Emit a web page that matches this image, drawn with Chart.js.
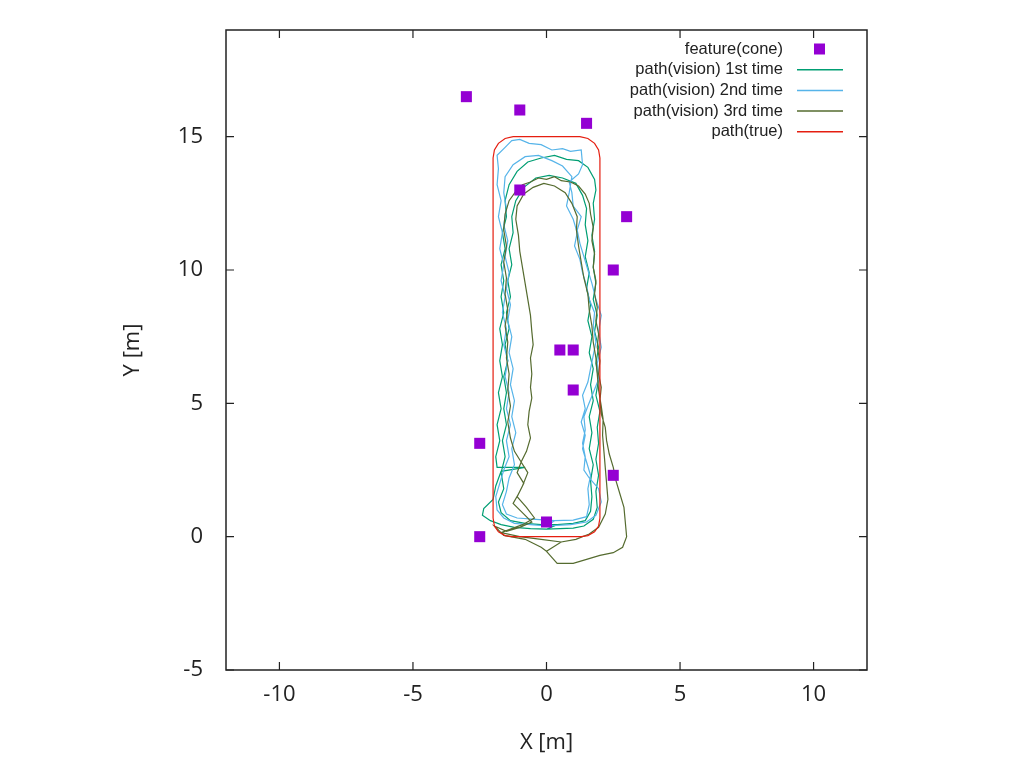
<!DOCTYPE html>
<html>
<head>
<meta charset="utf-8">
<script src="https://cdn.jsdelivr.net/npm/chart.js@4"></script>
<style>
  html, body { margin: 0; padding: 0; background: #fff; }
  #wrap { width: 1024px; height: 767px; }
</style>
</head>
<body>
<div id="wrap"><canvas id="trackChart" width="1024" height="767"></canvas></div>
<script>
// tick labels
var xTicks = [-10, -5, 0, 5, 10];
var yTicks = [-5, 0, 5, 10, 15];

// series labels
var seriesLabels = ['feature(cone)', 'path(vision) 1st time', 'path(vision) 2nd time', 'path(vision) 3rd time', 'path(true)'];

// cones [x, y]
var cones = [[-3, 16.5], [-1, 16], [1.5, 15.5], [-1, 13], [3, 12], [2.5, 10], [0.5, 7], [1, 7],
  [1, 5.5], [-2.5, 3.5], [2.5, 2.3], [0, 0.55], [-2.5, 0]];

// true path [x, y]
var pathTrue = [[-2, 0.7], [-2, 14.2], [-1.95, 14.5], [-1.8, 14.75], [-1.55, 14.93], [-1.25, 15],
  [1.25, 15], [1.55, 14.93], [1.8, 14.75], [1.95, 14.5], [2, 14.2], [2, 0.7], [1.95, 0.4],
  [1.8, 0.18], [1.55, 0.04], [1.3, 0], [-1.3, 0], [-1.55, 0.04], [-1.8, 0.18], [-1.95, 0.4], [-2, 0.7]];

// vision path, 1st time
var vision1 = [[0.0,0.28],[0.5,0.3],[1.0,0.32],[1.4,0.4],[1.75,0.65],[1.9,1.1],[1.85,1.7],[1.95,2.3],[1.85,2.9],
  [1.95,3.5],[1.9,4.1],[2.0,4.7],[1.85,5.3],[1.95,5.9],[1.85,6.5],[1.95,7.1],[1.8,7.7],[1.9,8.3],[1.75,8.9],
  [1.85,9.5],[1.75,10.1],[1.8,10.7],[1.7,11.3],[1.8,11.9],[1.75,12.5],[1.85,13.0],[1.8,13.4],[1.55,13.85],
  [1.2,14.1],[0.75,14.15],[0.3,14.3],[-0.2,14.2],[-0.7,14.05],[-1.1,13.7],[-1.4,13.2],[-1.55,12.6],[-1.5,12.0],
  [-1.65,11.4],[-1.55,10.8],[-1.7,10.2],[-1.6,9.6],[-1.7,9.0],[-1.6,8.4],[-1.75,7.8],[-1.65,7.2],[-1.75,6.6],
  [-1.65,6.0],[-1.8,5.4],[-1.7,4.8],[-1.85,4.2],[-1.75,3.6],[-1.9,3.0],[-1.85,2.6],[-0.8,2.6],[-1.7,2.45],
  [-1.9,1.9],[-2.0,1.4],[-2.35,1.05],[-2.4,0.8],[-2.1,0.6],[-1.7,0.45],[-1.2,0.35],[-0.6,0.3],[0.0,0.28],
  [0.4,0.45],[1.0,0.5],[1.45,0.6],[1.65,0.95],[1.7,1.5],[1.65,2.1],[1.75,2.7],[1.6,3.3],[1.7,3.9],[1.6,4.5],
  [1.75,5.1],[1.65,5.7],[1.75,6.3],[1.6,6.9],[1.7,7.5],[1.55,8.1],[1.65,8.7],[1.5,9.3],[1.6,9.9],[1.45,10.5],
  [1.55,11.1],[1.45,11.7],[1.5,12.3],[1.35,12.8],[1.1,13.25],[0.6,13.45],[0.1,13.55],[-0.4,13.45],[-0.85,13.1],
  [-1.15,12.6],[-1.3,12.0],[-1.25,11.4],[-1.4,10.8],[-1.3,10.2],[-1.45,9.6],[-1.35,9.0],[-1.5,8.4],[-1.4,7.8],
  [-1.55,7.2],[-1.45,6.6],[-1.6,6.0],[-1.5,5.4],[-1.6,4.8],[-1.5,4.2],[-1.65,3.6],[-1.55,3.0],[-1.7,2.4],
  [-1.6,1.8],[-1.8,1.3],[-1.7,0.9],[-1.35,0.6],[-0.8,0.5],[-0.2,0.45],[0.4,0.45]];

// vision path, 2nd time
var vision2 = [[0.0,0.4],[0.9,0.45],[1.5,0.55],[1.85,0.8],[2.05,1.3],[1.95,1.8],[1.6,2.2],[1.4,2.5],[1.45,3.0],
  [1.35,3.5],[1.45,4.0],[1.4,4.5],[1.55,4.9],[1.75,5.4],[1.95,5.9],[1.9,6.5],[2.05,7.1],[1.95,7.7],[2.05,8.3],
  [1.85,8.9],[1.7,9.5],[1.55,10.0],[1.4,10.5],[1.25,11.0],[1.15,11.5],[1.3,12.0],[1.0,12.4],[0.95,12.9],
  [0.85,13.3],[1.2,13.6],[1.35,13.95],[1.3,14.5],[0.9,14.45],[0.6,14.55],[0.2,14.5],[-0.2,14.7],[-0.65,14.75],
  [-1.0,14.9],[-1.3,14.85],[-1.55,14.6],[-1.85,14.3],[-1.8,13.8],[-1.85,13.2],[-1.7,12.6],[-1.8,12.0],
  [-1.65,11.4],[-1.75,10.8],[-1.6,10.2],[-1.7,9.6],[-1.55,9.0],[-1.65,8.4],[-1.5,7.8],[-1.6,7.2],[-1.45,6.6],
  [-1.55,6.0],[-1.4,5.4],[-1.5,4.8],[-1.35,4.2],[-1.5,3.6],[-1.4,3.0],[-1.6,2.5],[-1.75,2.0],[-1.9,1.5],
  [-1.85,1.0],[-1.6,0.7],[-1.2,0.5],[-0.6,0.45],[0.0,0.4],
  [0.3,0.6],[1.0,0.62],[1.5,0.75],[1.6,1.2],[1.55,1.8],[1.65,2.3],[1.5,2.8],[1.35,3.3],[1.45,3.8],[1.3,4.3],
  [1.45,4.8],[1.35,5.3],[1.55,5.8],[1.65,6.3],[1.75,6.8],[1.85,7.3],[1.75,7.9],[1.8,8.4],[1.6,8.9],[1.5,9.4],
  [1.35,9.9],[1.25,10.4],[1.05,10.9],[1.15,11.4],[1.0,11.9],[0.75,12.4],[0.85,12.9],[0.95,13.5],[0.6,13.9],
  [0.2,14.1],[-0.3,14.3],[-0.8,14.25],[-1.25,13.95],[-1.55,13.5],[-1.6,12.9],[-1.5,12.3],[-1.6,11.7],
  [-1.45,11.1],[-1.55,10.5],[-1.4,9.9],[-1.5,9.3],[-1.35,8.7],[-1.45,8.1],[-1.3,7.5],[-1.4,6.9],[-1.25,6.3],
  [-1.35,5.7],[-1.2,5.1],[-1.3,4.5],[-1.15,3.9],[-1.3,3.3],[-1.2,2.7],[-1.4,2.2],[-1.5,1.7],[-1.65,1.2],
  [-1.5,0.85],[-1.1,0.7],[-0.4,0.65],[0.3,0.6]];

// vision path, 3rd time
var vision3 = [[0.0,-0.55],[0.4,-1.0],[1.0,-1.0],[1.5,-0.85],[2.0,-0.7],[2.5,-0.6],[2.85,-0.4],[3.0,0.0],
  [2.95,0.55],[2.9,1.1],[2.75,1.6],[2.6,2.1],[2.5,2.6],[2.35,3.1],[2.25,3.6],[2.2,4.1],[2.05,4.6],[2.0,5.1],
  [2.05,5.6],[1.95,6.1],[2.0,6.6],[1.9,7.1],[1.95,7.6],[1.85,8.1],[1.9,8.6],[1.8,9.1],[1.85,9.6],[1.75,10.1],
  [1.8,10.6],[1.7,11.1],[1.75,11.6],[1.65,12.1],[1.6,12.5],[1.45,12.85],[1.2,13.15],[0.9,13.3],[0.55,13.35],
  [0.3,13.5],[0.0,13.4],[-0.3,13.45],[-0.6,13.3],[-0.9,13.2],[-1.15,12.95],[-1.4,12.6],[-1.55,12.1],
  [-1.6,11.5],[-1.5,10.9],[-1.6,10.3],[-1.5,9.7],[-1.55,9.1],[-1.45,8.5],[-1.55,7.9],[-1.45,7.3],[-1.5,6.7],
  [-1.4,6.1],[-1.45,5.5],[-1.35,4.9],[-1.45,4.3],[-1.35,3.7],[-1.2,3.2],[-0.95,2.8],[-1.1,2.4],[-0.85,2.0],
  [-1.05,1.6],[-1.25,1.25],[-0.95,0.95],[-0.55,0.55],[-1.0,0.35],[-1.5,0.2],[-1.95,0.4],[-1.6,0.05],
  [-0.8,-0.1],[-0.2,-0.4],[0.0,-0.55],
  [0.55,-0.2],[1.1,-0.1],[1.6,0.1],[1.95,0.35],[2.2,0.85],[2.3,1.4],[2.25,2.0],[2.2,2.6],[2.15,3.2],[2.1,3.8],
  [2.12,4.4],[2.05,4.9],[1.95,5.5],[1.9,6.1],[1.85,6.7],[1.75,7.3],[1.7,7.9],[1.6,8.5],[1.55,9.1],[1.4,9.7],
  [1.3,10.3],[1.2,10.9],[1.12,11.5],[1.15,12.0],[0.95,12.5],[0.7,12.9],[0.3,13.15],[-0.1,13.25],[-0.5,13.1],
  [-0.85,12.85],[-1.1,12.4],[-1.15,11.9],[-1.05,11.3],[-1.0,10.7],[-0.9,10.1],[-0.8,9.5],[-0.7,8.9],
  [-0.6,8.3],[-0.55,7.7],[-0.5,7.2],[-0.6,6.7],[-0.55,6.1],[-0.6,5.6],[-0.55,5.2],[-0.65,4.7],[-0.7,4.2],
  [-0.6,3.7],[-0.75,3.2],[-0.95,2.8],[-0.7,2.4],[-0.9,1.9],[-1.1,1.5],[-0.75,1.1],[-0.45,0.7],[-0.9,0.45],
  [-1.7,0.15],[-1.0,0.0],[-0.2,-0.1],[0.55,-0.2]];

var colors = ['#9400D3', '#009E73', '#56B4E9', '#556B2F', '#E51E10'];

function toPts(arr) {
  return arr.map(function (p) { return { x: p[0], y: p[1] }; });
}

var tickFont = { family: '"Open Sans", "Noto Sans", sans-serif', size: 22 };

// gnuplot style frame, inward ticks on all sides, right aligned key
var framePlugin = {
  id: 'frame',
  afterDraw: function (chart) {
    var ctx = chart.ctx, a = chart.chartArea;
    var xs = chart.scales.x, ys = chart.scales.y;
    ctx.save();
    ctx.strokeStyle = '#222';
    ctx.lineWidth = 1.5;
    ctx.strokeRect(a.left, a.top, a.right - a.left, a.bottom - a.top);
    ctx.lineWidth = 1.2;
    ctx.beginPath();
    xTicks.forEach(function (v) {
      var px = xs.getPixelForValue(v);
      ctx.moveTo(px, a.bottom); ctx.lineTo(px, a.bottom - 8);
      ctx.moveTo(px, a.top); ctx.lineTo(px, a.top + 8);
    });
    yTicks.forEach(function (v) {
      var py = ys.getPixelForValue(v);
      ctx.moveTo(a.left, py); ctx.lineTo(a.left + 8, py);
      ctx.moveTo(a.right, py); ctx.lineTo(a.right - 8, py);
    });
    ctx.stroke();

    // key
    ctx.font = '16.5px "Liberation Sans", Arial, sans-serif';
    ctx.textAlign = 'right';
    ctx.textBaseline = 'middle';
    chart.data.datasets.forEach(function (ds, i) {
      var y = a.top + 19 + i * 20.7;
      ctx.fillStyle = '#222';
      ctx.fillText(ds.label, a.right - 84, y);
      if (i === 0) {
        ctx.fillStyle = ds.backgroundColor;
        ctx.fillRect(a.right - 53, y - 5.5, 11, 11);
      } else {
        ctx.strokeStyle = ds.borderColor;
        ctx.lineWidth = 1.5;
        ctx.beginPath();
        ctx.moveTo(a.right - 70, y);
        ctx.lineTo(a.right - 24, y);
        ctx.stroke();
      }
    });
    ctx.restore();
  }
};

function lineSet(label, pts, color, order) {
  return {
    label: label,
    data: toPts(pts),
    showLine: true,
    borderColor: color,
    backgroundColor: color,
    borderWidth: 1.2,
    pointRadius: 0,
    tension: 0,
    order: order
  };
}

new Chart(document.getElementById('trackChart'), {
  type: 'scatter',
  data: {
    datasets: [
      {
        label: seriesLabels[0],
        data: toPts(cones),
        pointStyle: 'rect',
        pointRadius: 7.8,
        borderWidth: 0,
        backgroundColor: colors[0],
        borderColor: colors[0],
        order: 0
      },
      lineSet(seriesLabels[1], vision1, colors[1], 4),
      lineSet(seriesLabels[2], vision2, colors[2], 3),
      lineSet(seriesLabels[3], vision3, colors[3], 2),
      lineSet(seriesLabels[4], pathTrue, colors[4], 1)
    ]
  },
  options: {
    responsive: false,
    animation: false,
    devicePixelRatio: 1,
    layout: { padding: { left: 100, right: 157, top: 30, bottom: 0 } },
    plugins: {
      legend: { display: false },
      tooltip: { enabled: false }
    },
    scales: {
      x: {
        type: 'linear',
        min: -12,
        max: 12,
        afterBuildTicks: function (s) { s.ticks = xTicks.map(function (v) { return { value: v }; }); },
        afterFit: function (s) { s.height = 97; },
        grid: { display: false, drawTicks: false },
        border: { display: false },
        ticks: { font: tickFont, color: '#222', padding: 12, maxRotation: 0 },
        title: { display: true, text: 'X [m]', font: tickFont, color: '#222', padding: { top: 0, bottom: 11 } }
      },
      y: {
        type: 'linear',
        min: -5,
        max: 19,
        afterBuildTicks: function (s) { s.ticks = yTicks.map(function (v) { return { value: v }; }); },
        afterFit: function (s) { s.width = 126; s.paddingTop = 0; s.paddingBottom = 0; },
        grid: { display: false, drawTicks: false },
        border: { display: false },
        ticks: { font: tickFont, color: '#222', padding: 23 },
        title: { display: true, text: 'Y [m]', font: tickFont, color: '#222', padding: { top: 20, bottom: 0 } }
      }
    }
  },
  plugins: [framePlugin]
});
</script>
</body>
</html>
